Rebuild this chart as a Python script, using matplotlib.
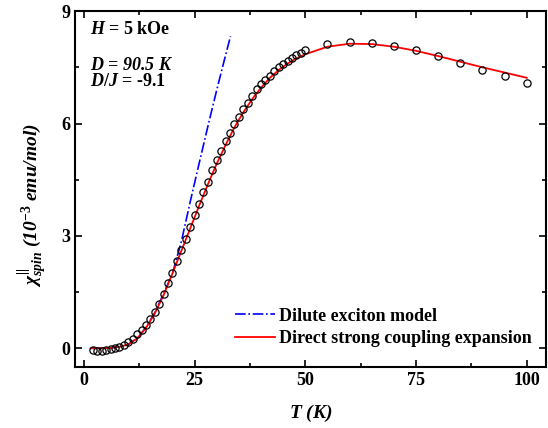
import matplotlib
matplotlib.use('Agg')
import matplotlib.pyplot as plt
from matplotlib.ticker import MultipleLocator

plt.rcParams['font.family'] = ['Liberation Serif', 'DejaVu Serif']
plt.rcParams['font.weight'] = 'bold'
plt.rcParams['mathtext.fontset'] = 'custom'
plt.rcParams['mathtext.rm'] = 'Liberation Serif:bold'
plt.rcParams['mathtext.it'] = 'Liberation Serif:italic:bold'
plt.rcParams['mathtext.bf'] = 'Liberation Serif:bold'

# measured data (T in K, chi in 1e-3 emu/mol)
T_data = list(range(2, 51)) + [55, 60, 65, 70, 75, 80, 85, 90, 95, 100]
chi_data = [-0.04, -0.06, -0.07, -0.05, -0.02, 0.01, 0.03, 0.10, 0.17, 0.26,
            0.37, 0.48, 0.62, 0.79, 0.98, 1.18, 1.46, 1.73, 2.02, 2.32,
            2.62, 2.93, 3.24, 3.55, 3.86, 4.16, 4.45, 4.75, 5.03, 5.27,
            5.52, 5.76, 5.98, 6.18, 6.38, 6.56, 6.74, 6.92, 7.06, 7.17,
            7.28, 7.41, 7.50, 7.58, 7.67, 7.75, 7.83, 7.88, 7.95,
            8.13, 8.17, 8.15, 8.07, 7.95, 7.80, 7.62, 7.43, 7.27, 7.09]

# strong coupling expansion curve
T_fit = [1.5, 4, 6, 8, 10, 12, 14, 16, 18, 20, 22, 24, 26, 28, 30, 32, 34, 36,
         38, 40, 42, 44, 46, 48, 50, 55, 60, 65, 70, 75, 80, 85, 90, 95, 100]
chi_fit = [0.0, 0.0, 0.01, 0.04, 0.10, 0.26, 0.54, 0.93, 1.42, 2.0, 2.6, 3.2,
           3.8, 4.38, 4.93, 5.43, 5.9, 6.3, 6.65, 6.96, 7.22, 7.43, 7.6, 7.74,
           7.85, 8.05, 8.13, 8.12, 8.05, 7.94, 7.80, 7.65, 7.5, 7.36, 7.22]

# dilute exciton model curve
T_dil = [1.5, 6, 8, 10, 12, 14, 16, 18, 20, 22, 24, 26, 28, 30, 32, 33.1]
chi_dil = [0.0, 0.01, 0.04, 0.10, 0.27, 0.55, 0.95, 1.46, 2.0, 2.85, 3.91,
           4.93, 5.93, 6.9, 7.83, 8.33]

fig = plt.figure(figsize=(5.48, 4.28), dpi=100)
ax = fig.add_axes([0.137, 0.1425, 0.859, 0.8315])

ax.plot(T_dil, chi_dil, color='blue', ls='-.', lw=1.2, label='Dilute exciton model')
ax.plot(T_fit, chi_fit, color='red', lw=1.3, label='Direct strong coupling expansion')
ax.plot(T_data, chi_data, ls='none', marker='o', ms=5.2, mfc='none', mec='black', mew=0.9)

ax.set_xlim(-2, 104.3)
ax.set_ylim(-0.5, 9)
ax.xaxis.set_major_locator(MultipleLocator(25))
ax.xaxis.set_minor_locator(MultipleLocator(12.5))
ax.yaxis.set_major_locator(MultipleLocator(3))
ax.yaxis.set_minor_locator(MultipleLocator(1.5))
ax.tick_params(which='both', direction='in', top=True, right=True, labelsize=13, width=1.2)
ax.tick_params(which='major', length=5)
ax.tick_params(which='minor', length=3)
for s in ax.spines.values():
    s.set_linewidth(1.5)

ax.set_xlabel(r'$T$ (K)', fontsize=14, fontweight='bold', style='italic', labelpad=10)
ax.set_ylabel(r'$\chi_{spin}^{||}$ (10$^{-3}$ emu/mol)', fontsize=14,
              fontweight='bold', style='italic')
ax.yaxis.set_label_coords(-0.055, 0.455)

ax.text(0.032, 0.949, r'$H$ = 5 kOe', transform=ax.transAxes, fontsize=13,
        fontweight='bold', va='center')
ax.text(0.032, 0.846, r'$D$ = 90.5 K', transform=ax.transAxes, fontsize=13,
        fontweight='bold', style='italic', va='center')
ax.text(0.032, 0.803, r'$D/J$ = -9.1', transform=ax.transAxes, fontsize=13,
        fontweight='bold', va='center')

ax.legend(loc='lower right', bbox_to_anchor=(1.005, 0.01), frameon=False,
          fontsize=13, handlelength=2.2, handletextpad=0.25, labelspacing=0.3)

fig.savefig('out.png', dpi=100)
